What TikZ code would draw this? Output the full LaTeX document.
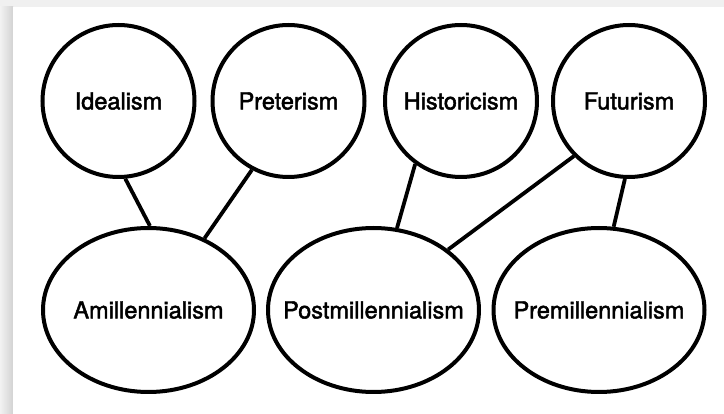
\documentclass[tikz,border=0pt]{standalone}
\usepackage{fontspec}
\setmainfont{TeX Gyre Heros}
\newfontfamily\medfont{TeX Gyre Heros}[FakeBold=2]
\usetikzlibrary{shapes.geometric}
\newcommand{\zw}[1]{\makebox[0pt]{#1}}
\begin{document}
\begin{tikzpicture}[x=1pt,y=-1pt,
  view/.style={circle,draw=black,line width=4pt,minimum size=152pt,inner sep=0pt,font=\medfont\fontsize{23.5}{26}\selectfont},
  mill/.style={ellipse,draw=black,line width=4pt,minimum width=211pt,minimum height=164pt,inner sep=0pt,font=\medfont\fontsize{23.5}{26}\selectfont},
  link/.style={draw=black,line width=3.8pt}]
\useasboundingbox (0,0) rectangle (724,414);
\fill[gray!12] (0,0) rectangle (724,414);
\shade[left color=gray!10,right color=gray!35] (0,7) rectangle (13,414);
\fill[white] (13,7) rectangle (724,414);
\node[view] (ideal) at (118.5,101) {\zw{Idealism}};
\node[view] (pret) at (288.5,101) {\zw{Preterism}};
\node[view] (hist) at (461,101) {\zw{Historicism}};
\node[view] (fut) at (629,101) {\zw{Futurism}};
\node[mill] (amill) at (148.5,310) {\zw{Amillennialism}};
\node[mill] (postm) at (373.5,310) {\zw{Postmillennialism}};
\node[mill] (prem) at (599,310) {\zw{Premillennialism}};
\draw[link] (ideal.-85) -- (amill.89);
\draw[link] (pret.-118) -- (amill.52);
\draw[link] (hist.-126) -- (postm.74);
\draw[link] (fut.-135) -- (postm.39);
\draw[link] (fut.-93) -- (prem.80);
\end{tikzpicture}
\end{document}
